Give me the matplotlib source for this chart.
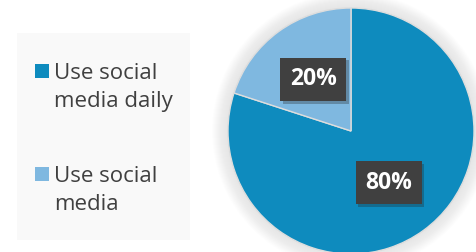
import matplotlib.pyplot as plt
import matplotlib.patheffects as pe
from matplotlib.patches import Rectangle, Circle

# data
labels = ["Use social\nmedia daily", "Use social\nmedia"]
shares = [80, 20]
colors = ["#0E8BBE", "#7FB8E0"]

W, H = 477, 252
fig = plt.figure(figsize=(W / 100, H / 100), dpi=100)
fig.patch.set_facecolor("white")
ax = fig.add_axes([0, 0, 1, 1])

cx, cy, r = 351, H - 131, 123

# soft glow behind the pie
for i in range(16):
    ax.add_patch(Circle((cx, cy), r + 16 - i, color="#999999", alpha=0.012, lw=0, zorder=0))

wedges, _, autotexts = ax.pie(
    shares, colors=colors, startangle=90, counterclock=False,
    center=(cx, cy), radius=r, frame=True,
    autopct=lambda p: f"{p:.0f}%", pctdistance=0.52,
    wedgeprops=dict(edgecolor="#DDDDDD", linewidth=1.0),
    textprops=dict(color="white", fontsize=16.5, fontweight="bold", family="Open Sans"),
)
ax.set_xlim(0, W)
ax.set_ylim(0, H)
ax.set_aspect("equal")
ax.axis("off")
for t in autotexts:
    t.set_bbox(dict(boxstyle="square,pad=0.42", facecolor="#404040", edgecolor="none"))
    t.get_bbox_patch().set_path_effects(
        [pe.SimplePatchShadow(offset=(2, -2), shadow_rgbFace="#222222", alpha=0.3), pe.Normal()])

# legend panel
ax.add_patch(Rectangle((17, H - 240), 173, 207, facecolor="#F9F9F9", edgecolor="none", zorder=1))
ys = [71, 174]
for lab, col, y in zip(labels, colors, ys):
    ax.add_patch(Rectangle((35, H - y - 7), 14, 14, facecolor=col, edgecolor="none", zorder=2))
    ax.text(54, H - y - 36, lab, ha="left", va="baseline", fontsize=16, color="#404040",
            family="Open Sans", linespacing=1.45, zorder=2)

fig.savefig("out.png", dpi=100)
